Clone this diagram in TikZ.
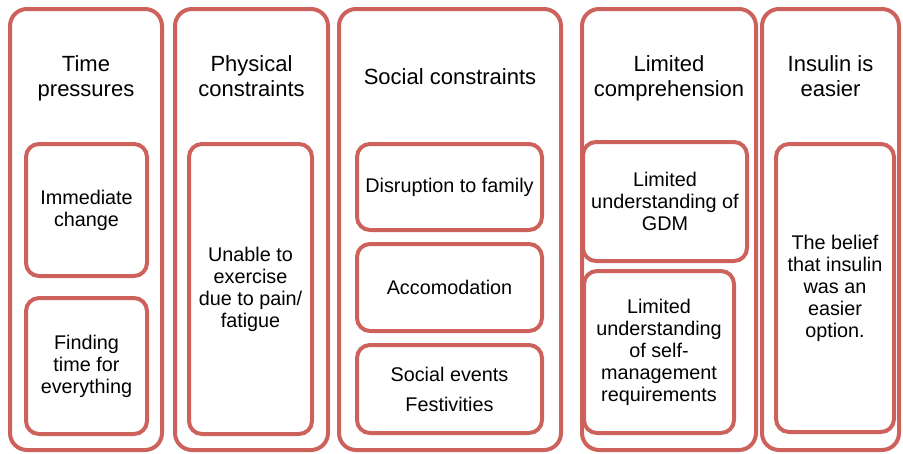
\documentclass[tikz,border=0pt]{standalone}
\usepackage{fontspec}
\setmainfont{Liberation Sans}
\usepackage{tikz}
\usetikzlibrary{positioning}
\definecolor{boxred}{RGB}{205,98,92}

\begin{document}
\begin{tikzpicture}[x=1pt, y=-1pt,
	outerbox/.style={draw=boxred, line width=4pt, rounded corners=17pt, inner sep=0pt, minimum width=#1, minimum height=441pt},
	innerbox/.style={draw=boxred, line width=4pt, rounded corners=13pt, inner sep=0pt, align=center, font=\fontsize{19.8}{22}\selectfont},
	titletext/.style={anchor=north, inner sep=0pt, align=center, font=\fontsize{22}{25}\selectfont}]
	\useasboundingbox (0,0) rectangle (903,453);

	% columns
	\draw (86,229.5)    node[outerbox=152pt] (time) {}
		(251.5,229.5) node[outerbox=153pt] (phys) {}
		(450,229.5)   node[outerbox=222pt] (social) {}
		(669,229.5)   node[outerbox=174pt] (compr) {}
		(830.5,229.5) node[outerbox=137pt] (insulin) {};

	% headings
	\draw (86,55)  node[titletext] (time-t) {Time\\pressures}
		(251.5,55) node[titletext] (phys-t) {Physical\\constraints}
		(450,68)   node[titletext] (social-t) {Social constraints}
		(669,55)   node[titletext] (compr-t) {Limited\\comprehension}
		(830.5,55) node[titletext] (insulin-t) {Insulin is\\easier};

	% themes
	\draw (86.5,210)  node[innerbox, minimum width=121pt, minimum height=132pt] (t1) {Immediate\\change}
		(86.5,366)    node[innerbox, minimum width=121pt, minimum height=136pt] (t2) {Finding\\time for\\everything}
		(250.5,289)   node[innerbox, minimum width=123pt, minimum height=290pt] (p1) {Unable to\\exercise\\due to pain/\\fatigue}
		(449.5,187)   node[innerbox, minimum width=185pt, minimum height=86pt] (s1) {Disruption to family}
		(449.5,287.5) node[innerbox, minimum width=185pt, minimum height=87pt] (s2) {Accomodation}
		(449.5,389)   node[innerbox, minimum width=185pt, minimum height=88pt] (s3) {Social events\\[8pt]Festivities}
		(665,201.5)   node[innerbox, minimum width=164pt, minimum height=119pt] (c1) {Limited\\understanding of\\GDM}
		(659,352)     node[innerbox, minimum width=150pt, minimum height=162pt] (c2) {Limited\\understanding\\of self-\\management\\requirements}
		(835,288)     node[innerbox, minimum width=118pt, minimum height=288pt] (i1) {The belief\\that insulin\\was an\\easier\\option.};
\end{tikzpicture}
\end{document}
